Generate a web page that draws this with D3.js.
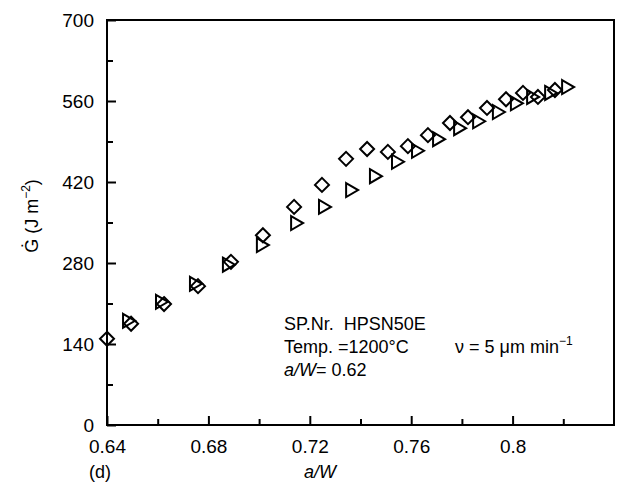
<!DOCTYPE html>
<html>
<head>
<meta charset="utf-8">
<script src="https://cdn.jsdelivr.net/npm/d3@7"></script>
<style>
body { margin: 0; background: #fff; }
svg { font-family: "Liberation Sans", Arial, sans-serif; }
text { white-space: pre; }
</style>
</head>
<body>
<svg id="chart" width="618" height="492"></svg>
<script>
// diamonds
var diamond_x = [0.640, 0.6495, 0.6625, 0.6759, 0.6889, 0.7015, 0.7138, 0.7248, 0.7343, 0.7426,
                 0.7508, 0.7587, 0.7666, 0.7753, 0.7824, 0.7899, 0.7974, 0.8041, 0.8100, 0.8167];
var diamond_g = [149, 175, 209, 240, 282, 328, 377, 415, 460, 477,
                 472, 482, 501, 522, 532, 548, 563, 574, 567, 579];
// right-pointing triangles
var triangle_x = [0.6483, 0.6613, 0.6747, 0.6877, 0.7011, 0.7146, 0.7256, 0.7363, 0.7457, 0.7544,
                  0.7623, 0.7706, 0.7789, 0.7864, 0.7942, 0.8013, 0.8077, 0.8148, 0.8215];
var triangle_g = [180, 213, 244, 277, 311, 349, 377, 406, 430, 455,
                  474, 494, 513, 525, 541, 556, 567, 574, 584];

var x_ticks = [0.64, 0.68, 0.72, 0.76, 0.80];
var x_tick_labels = ["0.64", "0.68", "0.72", "0.76", "0.8"];
var x_minor = [0.66, 0.70, 0.74, 0.78, 0.82];
var y_ticks = [0, 140, 280, 420, 560, 700];
var y_minor = [70, 210, 350, 490, 630];

var margin = {left: 107, right: 4, top: 20, bottom: 67},
    width = 618 - margin.left - margin.right,
    height = 492 - margin.top - margin.bottom;

var svg = d3.select("#chart");
var g = svg.append("g").attr("transform", "translate(" + margin.left + "," + margin.top + ")");

var x = d3.scaleLinear().domain([0.64, 0.84]).range([0, width]);
var y = d3.scaleLinear().domain([0, 700]).range([height, 0]);

// frame
g.append("rect")
    .attr("width", width)
    .attr("height", height)
    .attr("fill", "none")
    .attr("stroke", "#000")
    .attr("stroke-width", 2);

// x axis, ticks pointing inward
var x_axis = g.append("g")
    .attr("transform", "translate(0," + height + ")")
    .call(d3.axisBottom(x).tickValues(x_ticks).tickSize(-9).tickPadding(15)
        .tickFormat(function(d, i) { return x_tick_labels[i]; }));
x_axis.select(".domain").remove();
x_axis.selectAll("text").attr("font-size", 19).attr("fill", "#000");
x_axis.selectAll("line").attr("stroke-width", 2);

var x_minor_axis = g.append("g")
    .attr("transform", "translate(0," + height + ")")
    .call(d3.axisBottom(x).tickValues(x_minor).tickSize(-6).tickFormat(""));
x_minor_axis.select(".domain").remove();
x_minor_axis.selectAll("line").attr("stroke-width", 2);

// y axis
var y_axis = g.append("g")
    .call(d3.axisLeft(y).tickValues(y_ticks).tickSize(-9).tickPadding(13));
y_axis.select(".domain").remove();
y_axis.selectAll("text").attr("font-size", 19).attr("fill", "#000");
y_axis.selectAll("line").attr("stroke-width", 2);

var y_minor_axis = g.append("g")
    .call(d3.axisLeft(y).tickValues(y_minor).tickSize(-6).tickFormat(""));
y_minor_axis.select(".domain").remove();
y_minor_axis.selectAll("line").attr("stroke-width", 2);

// markers
var diamonds = d3.range(diamond_x.length).map(function(i) { return {x: diamond_x[i], g: diamond_g[i]}; });
var triangles = d3.range(triangle_x.length).map(function(i) { return {x: triangle_x[i], g: triangle_g[i]}; });

g.append("g").selectAll("path")
    .data(diamonds)
    .enter().append("path")
    .attr("transform", function(d) { return "translate(" + x(d.x) + "," + y(d.g) + ")"; })
    .attr("d", "M0,-7L7,0L0,7L-7,0Z")
    .attr("fill", "none")
    .attr("stroke", "#000")
    .attr("stroke-width", 2);

g.append("g").selectAll("path")
    .data(triangles)
    .enter().append("path")
    .attr("transform", function(d) { return "translate(" + x(d.x) + "," + y(d.g) + ")"; })
    .attr("d", "M-5,-7L7,0L-5,7Z")
    .attr("fill", "none")
    .attr("stroke", "#000")
    .attr("stroke-width", 2);

// axis titles
svg.append("text")
    .attr("transform", "translate(38,216) rotate(-90)")
    .attr("text-anchor", "middle")
    .attr("font-size", 18)
    .html('Ġ (J m<tspan dy="-8" font-size="12">−2</tspan><tspan dy="8">)</tspan>');

svg.append("text")
    .attr("x", 320).attr("y", 478)
    .attr("text-anchor", "middle")
    .attr("font-size", 18)
    .attr("font-style", "italic")
    .text("a/W");

svg.append("text")
    .attr("x", 89).attr("y", 478)
    .attr("font-size", 18)
    .text("(d)");

// annotation
var note = svg.append("g").attr("font-size", 18);
note.append("text").attr("x", 284).attr("y", 330).text("SP.Nr.  HPSN50E");
note.append("text").attr("x", 284).attr("y", 353).text("Temp. =1200°C");
note.append("text").attr("x", 455).attr("y", 353)
    .html('ν = 5 μm min<tspan dy="-8" font-size="12">−1</tspan>');
note.append("text").attr("x", 284).attr("y", 376)
    .html('<tspan font-style="italic">a/W</tspan>= 0.62');
</script>
</body>
</html>
